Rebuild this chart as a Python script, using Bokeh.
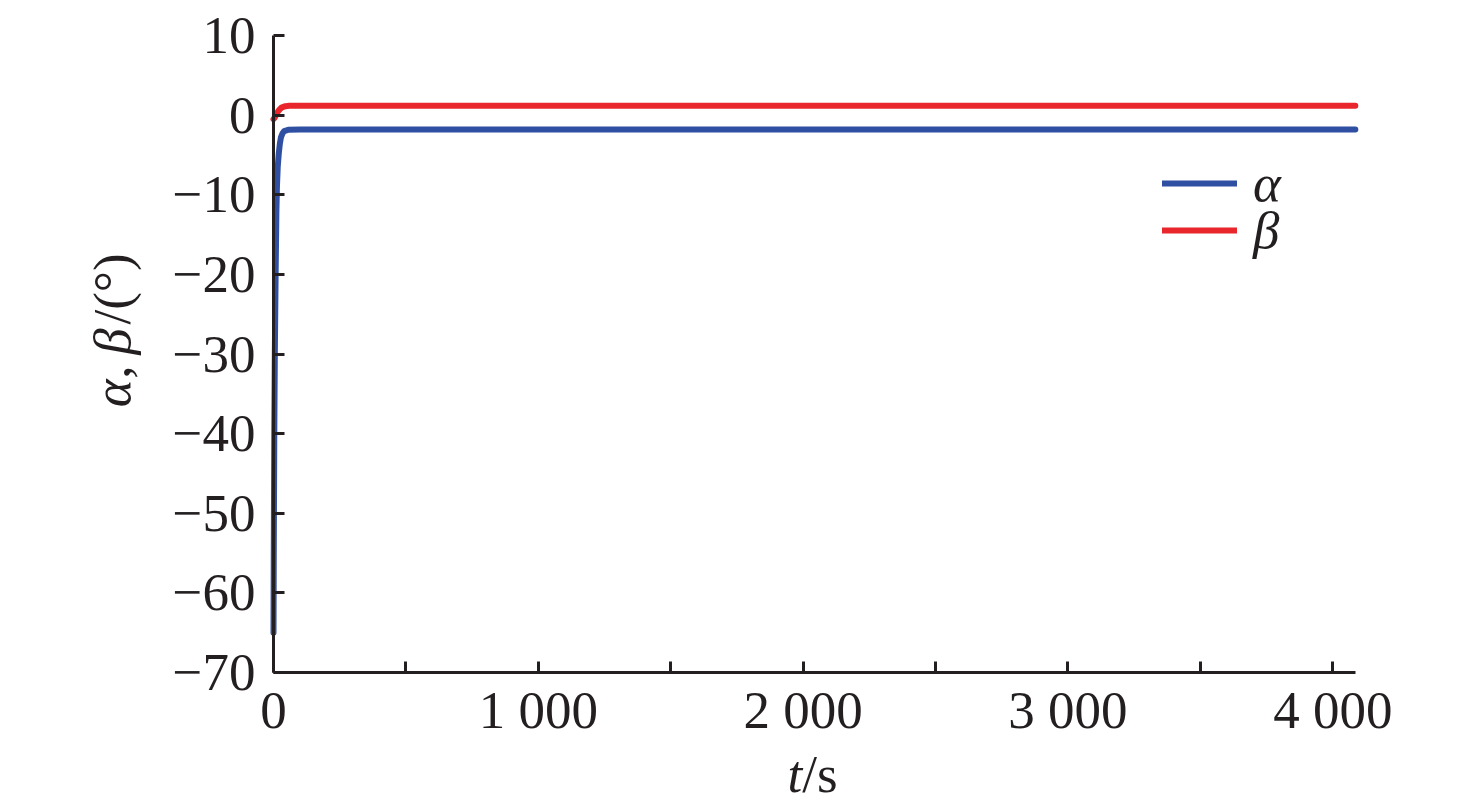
import math
from bokeh.plotting import figure
from bokeh.models import (Range1d, FixedTicker, Label, Legend, LegendItem)
from bokeh.embed import file_html
from bokeh.resources import INLINE

# ---- data ----
t_alpha = [0, 1, 3, 5, 8, 11, 13, 16, 20, 24, 28, 34, 40, 55, 100, 300, 1000, 2000, 3000, 4085]
alpha = [-65, -55, -40, -30, -20, -12, -9, -6.5, -4.8, -3.6, -2.8, -2.3, -2.0, -1.85, -1.8, -1.8, -1.8, -1.8, -1.8, -1.8]

t_beta = [0, 5, 12, 20, 30, 45, 60, 100, 1000, 2000, 3000, 4085]
beta = [-0.5, -0.3, 0.2, 0.6, 0.95, 1.12, 1.17, 1.17, 1.17, 1.17, 1.17, 1.17]

x_ticks = [0, 500, 1000, 1500, 2000, 2500, 3000, 3500, 4000]
x_tick_labels = ["0", "", "1 000", "", "2 000", "", "3 000", "", "4 000"]
y_ticks = [10, 0, -10, -20, -30, -40, -50, -60, -70]
y_tick_labels = ["10", "0", "\u221210", "\u221220", "\u221230", "\u221240", "\u221250", "\u221260", "\u221270"]

series_names = ["\u03b1", "\u03b2"]
series_colors = ["#2f4fa2", "#e8262b"]

FONT = "Liberation Serif"
FS = "53px"
INK = "#231f20"

W, H = 1460, 806
X0, XS = 273.0, 0.26483      # page x of t=0, px per second
Y0, YS = 35.0, 7.9625        # page y of 10 deg, px per degree
x_lo, x_hi = -X0 / XS, (W - X0) / XS
y_hi = 10 + Y0 / YS
y_lo = 10 - (H - Y0) / YS

p = figure(width=W, height=H, output_backend="svg", toolbar_location=None,
           x_range=Range1d(x_lo, x_hi), y_range=Range1d(y_lo, y_hi), min_border=0)
p.outline_line_color = None
p.grid.grid_line_color = None
p.background_fill_color = "white"
p.border_fill_color = "white"

for ax in (p.xaxis[0], p.yaxis[0]):
    ax.axis_line_width = 3
    ax.axis_line_color = INK
    ax.major_tick_line_width = 3
    ax.major_tick_line_color = INK
    ax.major_tick_in = 11
    ax.major_tick_out = 0
    ax.minor_tick_line_color = None
    ax.major_label_text_font = FONT
    ax.major_label_text_font_size = FS
    ax.major_label_text_color = INK
    ax.major_label_text_font_style = "normal"

p.xaxis[0].fixed_location = -70
p.xaxis[0].bounds = (0, 4086)
p.xaxis[0].ticker = FixedTicker(ticks=x_ticks)
p.xaxis[0].major_label_overrides = {k: v for k, v in zip(x_ticks, x_tick_labels)}
p.xaxis[0].major_label_standoff = 8
p.yaxis[0].fixed_location = 0
p.yaxis[0].bounds = (-70, 10)
p.yaxis[0].ticker = FixedTicker(ticks=y_ticks)
p.yaxis[0].major_label_overrides = {k: v for k, v in zip(y_ticks, y_tick_labels)}
p.yaxis[0].major_label_standoff = 18

ra = p.line(t_alpha, alpha, line_color=series_colors[0], line_width=6, line_cap="round", line_join="round")
rb = p.line(t_beta, beta, line_color=series_colors[1], line_width=6, line_cap="round", line_join="round")

# legends (one item each, for exact spacing); bottom measured from canvas bottom
for r, name, item_y in ((ra, series_names[0], 183), (rb, series_names[1], 230)):
    lg = Legend(items=[LegendItem(label=name, renderers=[r])], location=(1162, H - item_y - 40),
                padding=0, margin=0, spacing=0, glyph_width=75, glyph_height=80,
                label_height=80, label_standoff=16, border_line_color=None,
                background_fill_alpha=0, label_text_font=FONT, label_text_font_size=FS,
                label_text_font_style="italic", label_text_color=INK)
    p.add_layout(lg, "center")

# x axis title: t/s  (data units)
xlab_parts = [("t", "italic", 1941), ("/s", "normal", 1997)]
for txt, style, xx in xlab_parts:
    p.add_layout(Label(x=xx, y=-82.8, text=txt, text_font=FONT, text_font_size=FS,
                       text_font_style=style, text_color=INK,
                       text_baseline="alphabetic", text_align="left"))

# y axis title: α, β/(°)  (data units, rotated)
ylab_parts = [("\u03b1", "italic", -36.7), (",", "normal", -33.1), ("\u03b2", "italic", -30.1), ("/(\u00b0)", "normal", -26.3)]
for txt, style, yy in ylab_parts:
    p.add_layout(Label(x=-610, y=yy, text=txt, angle=math.pi / 2, text_font=FONT,
                       text_font_size=FS, text_font_style=style, text_color=INK,
                       text_baseline="alphabetic", text_align="left"))

open("out.html", "w").write(file_html(p, INLINE))
